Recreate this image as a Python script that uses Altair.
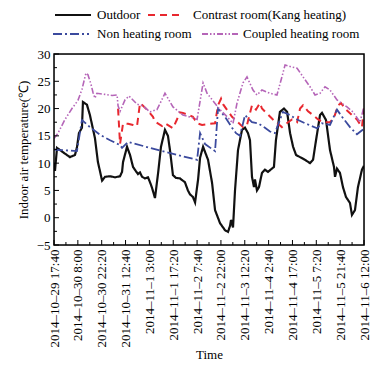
import altair as alt
import pandas as pd

# hours since 2014-10-29 17:40
outdoor_hours = [0, 0.6, 1.8, 5.4, 9.6, 12.6, 13.8, 15.0, 16.8, 17.4, 19.8, 21.6, 24.6, 26.4, 28.9, 30.7, 33.7, 36.7, 39.7, 40.9,
                 41.5, 43.9, 45.7, 47.5, 49.3, 50.5, 51.7, 52.9, 54.7, 56.5, 57.7, 58.9, 60.7, 62.5, 64.3, 66.7, 68.5, 69.7, 71.5, 73.3,
                 75.7, 78.7, 80.5, 81.7, 83.5, 84.8, 86.6, 87.8, 89.6, 92.6, 95.0, 96.8, 99.8, 102.8, 104.6, 105.8, 106.4, 107.6, 108.8, 110.6,
                 113.0, 114.8, 116.6, 117.8, 119.0, 120.2, 120.8, 122.0, 123.2, 125.0, 126.8, 128.6, 131.0, 132.2, 133.4, 135.8, 138.2, 140.1, 141.9, 143.7,
                 145.5, 147.9, 150.9, 153.9, 155.7, 157.5, 159.9, 161.1, 163.5, 165.9, 168.3, 168.9, 170.1, 171.9, 173.7, 175.5, 177.9, 179.1, 180.9, 182.7,
                 185.1, 186.3]
outdoor_temp = [10, 8.6, 12.8, 12.0, 11.1, 11.5, 12.9, 15.5, 16.5, 21.2, 20.7, 18.8, 14.6, 10.2, 6.8, 7.5, 7.6, 7.4, 7.6, 8.4,
                10.2, 13.0, 11.5, 9.3, 8.5, 8.0, 8.3, 7.5, 7.2, 7.4, 6.5, 5.5, 3.6, 8.0, 13.0, 16.1, 15.0, 12.4, 7.8, 7.3,
                7.2, 6.5, 5.0, 4.3, 3.8, 2.8, 7.0, 11.0, 13.0, 10.6, 6.4, 1.4, -1.0, -2.3, -2.6, -1.5, -0.4, -1.8, 5.0, 12.4,
                16.1, 16.5, 15.5, 14.2, 7.5, 5.6, 7.0, 5.0, 5.6, 8.2, 8.8, 8.4, 9.0, 9.3, 14.2, 19.4, 20.0, 19.4, 15.5, 13.0,
                11.5, 11.1, 10.6, 10.0, 10.6, 14.2, 18.8, 19.2, 17.9, 12.4, 9.3, 7.5, 9.0, 8.2, 5.6, 3.8, 2.7, 0.5, 1.4, 5.6,
                8.8, 9.5]

contrast_hours = [38.5, 39.7, 41.5, 44.5, 47.5, 49.9, 51.7, 53.5, 55.9, 59.5, 60.7, 64.9, 66.7, 71.5, 73.9, 75.7, 77.5, 83.5, 86.0, 89.0,
                  93.8, 96.8, 98.6, 100.4, 101.6, 107.0, 113.6, 116.0, 119.0, 121.4, 123.8, 125.0, 131.6, 134.6, 137.0, 140.7, 143.1, 146.1, 147.9, 149.7,
                  152.7, 155.7, 158.7, 161.7, 165.9, 168.3, 170.7, 172.5, 175.5, 179.1, 182.1, 185.1, 186.3]
contrast_temp = [20.0, 13.5, 17.3, 17.2, 17.0, 16.8, 21.0, 20.5, 19.8, 18.5, 17.6, 16.8, 17.3, 16.4, 18.0, 19.3, 19.2, 18.5, 17.3, 17.0,
                 17.2, 17.3, 20.6, 21.8, 20.8, 18.5, 16.6, 17.0, 20.6, 19.8, 21.0, 20.0, 18.0, 17.2, 16.6, 17.5, 18.0, 17.5, 20.0, 20.6,
                 19.5, 18.8, 18.0, 17.5, 17.5, 18.3, 20.6, 21.0, 19.8, 18.8, 18.0, 16.6, 20.0]

non_hours = [0, 3.6, 9.6, 13.8, 16.8, 21.6, 27.6, 33.7, 39.7, 40.9, 44.5, 63.7, 86.0, 87.8, 90.8, 96.8, 98.6, 102.8, 107.0, 109.4,
             111.8, 114.8, 119.0, 122.6, 126.8, 129.8, 132.8, 137.6, 141.9, 146.1, 150.9, 158.1, 161.1, 165.9, 170.1, 173.1, 177.9, 182.1, 186.3]
non_temp = [12.5, 12.4, 12.3, 12.2, 17.9, 16.6, 15.2, 14.2, 13.3, 12.8, 13.9, 12.3, 10.6, 15.5, 13.5, 12.2, 20.0, 18.5, 16.5, 15.5,
            15.0, 18.8, 17.5, 17.3, 16.5, 15.8, 15.5, 19.4, 18.8, 18.0, 17.3, 16.4, 17.3, 17.0, 19.8, 18.5, 16.6, 15.3, 16.3]

coupled_hours = [0, 2.4, 6.6, 10.8, 14.4, 16.8, 19.2, 20.4, 22.2, 23.4, 24.6, 25.8, 30.7, 34.9, 37.9, 38.5, 39.7, 42.7, 45.1, 49.9,
                 53.5, 57.7, 61.9, 66.7, 71.5, 77.5, 83.5, 86.0, 89.6, 92.0, 99.8, 104.0, 107.6, 110.0, 113.6, 116.0, 119.6, 122.0, 125.0, 129.8,
                 134.0, 137.0, 138.9, 143.1, 146.1, 149.7, 153.9, 156.9, 159.9, 162.9, 165.9, 170.1, 176.1, 179.7, 183.9, 186.3]
coupled_temp = [14.5, 15.5, 18.0, 20.0, 21.5, 23.5, 26.5, 26.2, 24.5, 23.0, 21.9, 22.8, 22.6, 22.4, 22.5, 20.5, 19.5, 21.6, 22.3, 20.8,
                20.5, 19.4, 19.8, 22.8, 20.3, 18.8, 18.3, 18.0, 24.7, 22.8, 19.8, 18.5, 17.3, 21.0, 24.7, 25.8, 23.4, 22.5, 23.4, 22.8,
                22.5, 25.8, 28.0, 27.6, 27.4, 25.8, 24.0, 22.5, 22.8, 24.0, 23.4, 21.6, 20.3, 19.4, 17.5, 20.3]

series_names = ["Outdoor", "Contrast room(Kang heating)", "Non heating room", "Coupled heating room"]
series_colors = ["#111111", "#e8282f", "#3b4a9e", "#b565b8"]
series_dashes = [[1, 0], [7, 5], [9, 3, 2, 3], [6, 2, 1.5, 2, 1.5, 2]]
series_widths = [2.2, 1.6, 1.6, 1.4]

tick_labels = ["2014–10–29 17:40", "2014–10–30 8:00", "2014–10–30 22:20", "2014–10–31 12:40",
               "2014–11–1 3:00", "2014–11–1 17:20", "2014–11–2 7:40", "2014–11–2 22:00",
               "2014–11–3 12:20", "2014–11–4 2:40", "2014–11–4 17:00", "2014–11–5 7:20",
               "2014–11–5 21:40", "2014–11–6 12:00"]
step = 43 / 3  # 14 h 20 min
x_major = [i * step for i in range(len(tick_labels))]
x_minor = [(i + 0.5) * step for i in range(len(tick_labels) - 1)]
y_major = [-5, 0, 5, 10, 15, 20, 25, 30]
y_minor = [-2.5, 2.5, 7.5, 12.5, 17.5, 22.5, 27.5]

frames = []
for name, hs, ts in [(series_names[0], outdoor_hours, outdoor_temp),
                     (series_names[1], contrast_hours, contrast_temp),
                     (series_names[2], non_hours, non_temp),
                     (series_names[3], coupled_hours, coupled_temp)]:
    frames.append(pd.DataFrame({"hour": hs, "temp": ts, "series": name}))
df = pd.concat(frames, ignore_index=True)

W, H = 310, 191
FONT = "Liberation Serif"
xmax = (len(tick_labels) - 1) * step

label_array = "[" + ",".join("'" + s + "'" for s in tick_labels) + "]"

xscale = alt.Scale(domain=[0, xmax], nice=False, zero=False)
yscale = alt.Scale(domain=[-5, 30], nice=False)

x_axis = alt.Axis(values=x_major, labelExpr=label_array + "[round(datum.value*3/43)]",
                  labelAngle=270, labelAlign="right", labelBaseline="middle",
                  tickSize=0, domain=False, grid=False, labelPadding=4,
                  labelFont=FONT, labelFontSize=13, labelColor="black",
                  title="Time", titleFont=FONT, titleFontSize=13, titleFontWeight="normal",
                  titleColor="black", titlePadding=2, labelOverlap=False, labelBound=False,
                  labelFlush=False)
y_axis = alt.Axis(values=y_major, tickSize=0, domain=False, grid=False, labelPadding=4,
                  labelFont=FONT, labelFontSize=13, labelColor="black",
                  title="Indoor air temperature(℃)", titleFont=FONT, titleFontSize=13,
                  titleFontWeight="normal", titleColor="black", titlePadding=6,
                  labelOverlap=False, labelBound=False, labelFlush=False)

lines = alt.Chart(df).mark_line(clip=True).encode(
    x=alt.X("hour:Q", scale=xscale, axis=x_axis),
    y=alt.Y("temp:Q", scale=yscale, axis=y_axis),
    color=alt.Color("series:N", scale=alt.Scale(domain=series_names, range=series_colors), legend=None),
    strokeDash=alt.StrokeDash("series:N", scale=alt.Scale(domain=series_names, range=series_dashes), legend=None),
    strokeWidth=alt.StrokeWidth("series:N", scale=alt.Scale(domain=series_names, range=series_widths), legend=None),
    order=alt.Order("hour:Q"),
)

tick_color = "black"
ymaj = alt.Chart(pd.DataFrame({"temp": y_major})).mark_rule(color=tick_color, strokeWidth=1).encode(
    y=alt.Y("temp:Q", scale=yscale, axis=y_axis), x=alt.value(0), x2=alt.value(5))
ymin = alt.Chart(pd.DataFrame({"temp": y_minor})).mark_rule(color=tick_color, strokeWidth=1).encode(
    y=alt.Y("temp:Q", scale=yscale, axis=y_axis), x=alt.value(0), x2=alt.value(3))
xmaj = alt.Chart(pd.DataFrame({"hour": x_major})).mark_rule(color=tick_color, strokeWidth=1).encode(
    x=alt.X("hour:Q", scale=xscale, axis=x_axis), y=alt.value(H), y2=alt.value(H - 5))
xmin = alt.Chart(pd.DataFrame({"hour": x_minor})).mark_rule(color=tick_color, strokeWidth=1).encode(
    x=alt.X("hour:Q", scale=xscale, axis=x_axis), y=alt.value(H), y2=alt.value(H - 3))

frame = alt.Chart(pd.DataFrame({"a": [0]})).mark_rect(fill=None, stroke="black", strokeWidth=1.5).encode(
    x=alt.value(0), x2=alt.value(W), y=alt.value(0), y2=alt.value(H))

# manual legend (two rows, flowing like the reference)
leg_x_line = [1, 94, -1, 148]
leg_x_text = [43, 139, 43, 189]
leg_y = [-39, -39, -20, -20]
legend_layers = []
for i, name in enumerate(series_names):
    d = pd.DataFrame({"series": [name]})
    legend_layers.append(
        alt.Chart(d).mark_rule(color=series_colors[i], strokeDash=series_dashes[i], strokeWidth=2).encode(
            x=alt.value(leg_x_line[i]), x2=alt.value(leg_x_line[i] + 36), y=alt.value(leg_y[i])))
    legend_layers.append(
        alt.Chart(d).mark_text(align="left", baseline="middle", font=FONT, fontSize=13, color="black").encode(
            x=alt.value(leg_x_text[i]), y=alt.value(leg_y[i]), text="series:N"))

chart = alt.layer(lines, ymaj, ymin, xmaj, xmin, frame, *legend_layers).properties(
    width=W, height=H,
    autosize=alt.AutoSizeParams(type="none"),
    padding={"left": 46, "top": 46, "right": 11, "bottom": 119},
).configure_view(stroke=None).configure(background="white")

chart.save("out.html", embed_options={"renderer": "svg", "actions": False})
